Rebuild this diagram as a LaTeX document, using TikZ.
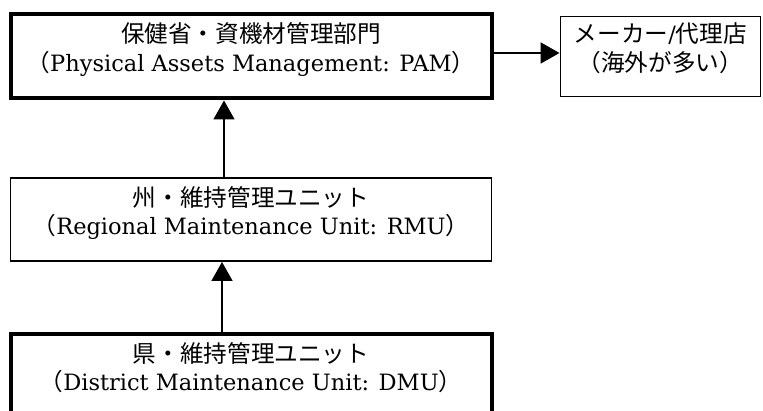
\documentclass[tikz,border=0pt]{standalone}
\usepackage{fontspec}
\setmainfont{DejaVu Serif}
\newfontfamily\jpfont[Scale=1.05]{Noto Sans CJK JP}
\usepackage{tikz}
\usetikzlibrary{arrows.meta, positioning}
\newcommand{\boxlines}[2]{\begin{tabular}{@{}c@{}}#1\\#2\\[11pt]\end{tabular}}

\begin{document}
\begin{tikzpicture}[x=1pt, y=1pt, font=\fontsize{22.5}{27}\selectfont, node distance=70pt,
    tb/.style={draw, line width=1.5pt, minimum width=481pt, minimum height=83pt, inner sep=0pt},
    bb/.style={draw, line width=4pt, minimum width=481pt, minimum height=84pt, inner sep=0pt},
    arr/.style={-{Triangle[length=19pt, width=21pt]}, line width=1.7pt}]
    \useasboundingbox (0,0) rectangle (763,411);
    \node[bb] (pam) at (251,354.5) {\boxlines{\jpfont 保健省・資機材管理部門}{{\jpfont （}Physical Assets Management: PAM{\jpfont ）}}};
    \node[tb, right=66pt of pam, minimum width=200pt, minimum height=80pt] (mkr) {\boxlines{{\jpfont メーカー}/{\jpfont 代理店}}{\jpfont （海外が多い）}};
    \node[tb, below=77pt of pam] (rmu) {\boxlines{\jpfont 州・維持管理ユニット}{{\jpfont （}Regional Maintenance Unit: RMU{\jpfont ）}}};
    \node[bb, below=70pt of rmu] (dmu) {\boxlines{\jpfont 県・維持管理ユニット}{{\jpfont （}District Maintenance Unit: DMU{\jpfont ）}}};
    \draw[arr, line width=2pt] ([yshift=3.5pt]pam.east) -- ([yshift=3.5pt]pam.east -| mkr.west);
    \draw[arr] ([xshift=-27pt]rmu.north) -- ([xshift=-27pt]rmu.north |- pam.south);
    \draw[arr] ([xshift=-29pt]dmu.north) -- ([xshift=-29pt]dmu.north |- rmu.south);
\end{tikzpicture}
\end{document}
